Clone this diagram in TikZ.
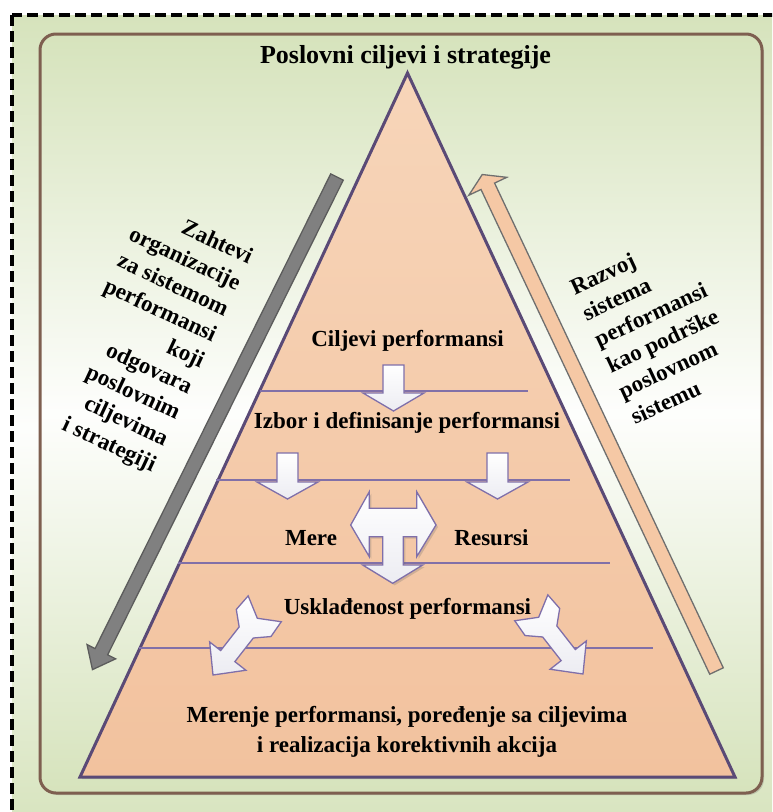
\documentclass[tikz,border=0pt]{standalone}
\usepackage{fontspec}
\setmainfont{Liberation Serif}
\usetikzlibrary{shadows,calc}

\definecolor{bgG}{HTML}{D6E3BC}
\definecolor{frameBrown}{HTML}{7E5F50}
\definecolor{triTop}{HTML}{F7D5B9}
\definecolor{triBot}{HTML}{F2C29E}
\definecolor{triLine}{HTML}{5A4A76}
\definecolor{sepLine}{HTML}{8170A8}
\definecolor{arrLine}{HTML}{7F6FAA}
\definecolor{arrShade}{HTML}{ECECF2}
\definecolor{grayFill}{HTML}{808080}
\definecolor{grayLine}{HTML}{5C5C5C}
\definecolor{peachFill}{HTML}{F5C8A5}
\definecolor{peachLine}{HTML}{6F6F6F}

\tikzset{
  softshadow/.style={drop shadow={opacity=0.25, shadow xshift=2pt, shadow yshift=-2pt, fill=black!60}},
  bodytext/.style={font=\bfseries\fontsize{23}{30}\selectfont, inner sep=0pt},
  titletext/.style={font=\bfseries\fontsize{26}{30}\selectfont, inner sep=0pt},
  sidetext/.style={font=\bfseries\fontsize{23}{28.6}\selectfont, inner sep=0pt},
  seprule/.style={draw=sepLine, line width=1.4pt},
  whitearrow/.style={draw=arrLine, line width=1.3pt, top color=white, bottom color=arrShade, softshadow},
  % straight block arrow along +x: length, shaft half width, head length, head half width
  pics/blockarrow/.style n args={4}{code={
    \path[pic actions] (0,#2) -- (#1-#3,#2) -- (#1-#3,#4) -- (#1,0)
      -- (#1-#3,-#4) -- (#1-#3,-#2) -- (0,-#2) -- cycle;
  }},
  % arrow with a forked tail, tip at the origin, pointing along +x
  pics/forkarrow/.style={code={
    \path[pic actions] (0,0) -- (-24,23) -- (-24,9) -- (-54,9) -- (-66,22) -- (-84,21)
      -- (-72,0) -- (-84,-21) -- (-66,-22) -- (-54,-9) -- (-24,-9) -- (-24,-23) -- cycle;
  }},
}

\begin{document}
\begin{tikzpicture}[x=1pt,y=-1pt]
\useasboundingbox (0,0) rectangle (772,812);
\clip (0,0) rectangle (772,812);

% page background with dashed frame
\path[draw=black, line width=3.6pt, dash pattern=on 11pt off 5pt,
      top color=bgG, bottom color=bgG, middle color=white!96!bgG]
  (12,15) rectangle (800,840);

% rounded panel
\path[draw=frameBrown, line width=3pt, rounded corners=16pt, softshadow,
      top color=bgG, bottom color=bgG, middle color=white!96!bgG]
  (40,34) rectangle (762,793);

% pyramid
\path[draw=triLine, line width=3pt, top color=triTop, bottom color=triBot, softshadow]
  (407.5,73) -- (80,777) -- (735,777) -- cycle;

% level separators
\draw[seprule] (260,391) -- (528,391);
\draw[seprule] (216,480) -- (570,480);
\draw[seprule] (178,563) -- (610,563);
\draw[seprule] (139,648) -- (653,648);

% side arrows
\pic[draw=grayLine, fill=grayFill, line width=1.3pt, softshadow, rotate=243.6]
  at (337,177) {blockarrow={550}{7}{20}{16}};
\pic[draw=peachLine, fill=peachFill, line width=1.3pt, softshadow, rotate=115.26]
  at (716.5,671) {blockarrow={549}{7.5}{13}{21}};

% flow arrows inside the pyramid
\pic[whitearrow, rotate=-90] at (393.5,365) {blockarrow={46}{10.5}{18}{30.5}};
\pic[whitearrow, rotate=-90] at (287.5,453) {blockarrow={46}{10.5}{17}{30.5}};
\pic[whitearrow, rotate=-90] at (497.5,453) {blockarrow={46}{10.5}{17}{30.5}};

% three-way arrow between Mere and Resursi
\path[whitearrow]
  (350.7,525) -- (369.3,491.7) -- (369.3,508.3) -- (416.7,508.3) -- (416.7,491.7)
  -- (436,525) -- (416.7,556.7) -- (416.7,536.7) -- (403.3,536.7) -- (403.3,565)
  -- (422.7,565) -- (392.7,583.3) -- (362.7,565) -- (382.7,565) -- (382.7,536.7)
  -- (369.3,536.7) -- (369.3,556.7) -- cycle;

% forked arrows towards the base
\pic[whitearrow, rotate=232] at (213,675) {forkarrow};
\pic[whitearrow, rotate=308] at (583,674) {forkarrow};

% texts
\node[titletext, anchor=base] (title) at (405.5,63) {Poslovni ciljevi i strategije};
\node[bodytext, anchor=base] (goals) at (407.5,346) {Ciljevi performansi};
\node[bodytext, anchor=base] (select) at (407,428) {Izbor i definisanje performansi};
\node[bodytext, anchor=base] (measures) at (311,545) {Mere};
\node[bodytext, anchor=base] (resources) at (491.5,545) {Resursi};
\node[bodytext, anchor=base] (align) at (407.5,614) {Usklađenost performansi};
\node[bodytext, anchor=base, align=center] (measure) at (407,752)
  {Merenje performansi, poređenje sa ciljevima\\i realizacija korektivnih akcija};

\node[sidetext, anchor=base east, align=right, rotate=-25] (req) at (152,472)
  {Zahtevi\\organizacije\\za sistemom\\performansi\\koji\\
   odgovara\\poslovnim\\ciljevima\\i strategiji};
\node[sidetext, anchor=base west, align=left, rotate=25] (dev) at (635,425)
  {Razvoj\\sistema\\performansi\\kao podrške\\poslovnom\\sistemu};
\end{tikzpicture}
\end{document}
